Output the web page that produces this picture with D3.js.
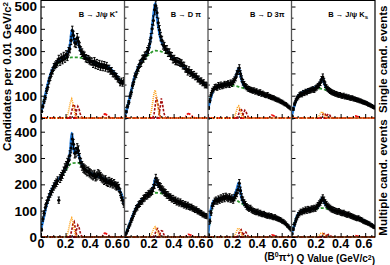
<!DOCTYPE html>
<html>
<head>
<meta charset="utf-8">
<script src="https://cdn.jsdelivr.net/npm/d3@7/dist/d3.min.js"></script>
<style>
body { margin: 0; background: #fff; }
svg text { font-family: "Liberation Sans", Arial, Helvetica, sans-serif; font-weight: bold; fill: #000; }
</style>
</head>
<body>
<div id="viz"></div>
<script>
//Canales (columnas) y filas
const channelMain = ['B \u2192 J/\u03c8 K', 'B \u2192 D \u03c0', 'B \u2192 D 3\u03c0', 'B \u2192 J/\u03c8 K'];
const channelSup = ['*', '', '', ''];
const channelSub = ['', '', '', 's'];
const rowTitles = ['Single cand. events', 'Multiple cand. events'];

//Ejes
const yTicksTop = [0, 100, 200, 300, 400, 500];
const yTicksBottom = [0, 100, 200, 300, 400];
const xTicks = [0, 0.2, 0.4, 0.6];
const xTickLabels = ['0', '0.2', '0.4', '0.6'];

//Bins de 0.01 GeV (centros)
const binCenters = d3.range(68).map(i => 0.005 + 0.01 * i);

//Rejillas x de las curvas
const fitX = [0, 0.02, 0.05, 0.08, 0.11, 0.14, 0.17, 0.20, 0.22, 0.24, 0.25, 0.26, 0.27, 0.28, 0.29, 0.30, 0.32, 0.35, 0.40, 0.45, 0.50, 0.55, 0.60, 0.65, 0.68];
const bkgX = [0, 0.05, 0.10, 0.15, 0.20, 0.25, 0.30, 0.35, 0.40, 0.45, 0.50, 0.55, 0.60, 0.65, 0.68];
const sigAX = [0, 0.20, 0.21, 0.22, 0.23, 0.24, 0.25, 0.26, 0.27, 0.28, 0.29, 0.30, 0.68];
const sigBX = [0, 0.23, 0.24, 0.25, 0.26, 0.27, 0.28, 0.29, 0.30, 0.68];
const sigCX = [0, 0.27, 0.28, 0.29, 0.30, 0.31, 0.32, 0.33, 0.34, 0.68];
const reflX = [0, 0.48, 0.50, 0.52, 0.54, 0.56, 0.58, 0.68];

//Single cand. - J/psi K*
const s1Counts = [30, 52, 74, 92, 121, 138, 166, 182, 201, 212,
  229, 236, 242, 249, 265, 252, 271, 259, 278, 266,
  285, 274, 299, 310, 348, 392, 370, 338, 334, 360,
  344, 320, 302, 293, 283, 279, 268, 265, 264, 258,
  254, 253, 242, 255, 237, 247, 233, 243, 229, 240,
  227, 238, 225, 234, 221, 222, 211, 212, 199, 198,
  189, 186, 175, 172, 157, 166, 155, 168];
const s1Fit = [28, 65, 140, 200, 235, 255, 265, 278, 295, 340, 395, 375, 345, 340, 350, 340, 305, 280, 258, 244, 236, 228, 200, 165, 160];
const s1Bkg = [28, 140, 215, 250, 265, 272, 272, 266, 256, 244, 234, 224, 200, 168, 160];
const s1SigA = [0, 0, 6, 20, 45, 72, 85, 65, 35, 12, 3, 0, 0];
const s1SigB = [0, 0, 8, 30, 55, 62, 35, 10, 0, 0];
const s1SigC = [0, 0, 10, 35, 52, 40, 18, 5, 0, 0];
const s1Refl = [0, 0, 6, 18, 12, 3, 0, 0];

//Single cand. - D pi
const s2Counts = [8, 28, 52, 70, 98, 115, 145, 162, 188, 195,
  215, 225, 243, 247, 265, 267, 279, 281, 299, 307,
  333, 360, 400, 437, 485, 503, 472, 427, 395, 365,
  348, 327, 321, 307, 307, 293, 293, 279, 277, 263,
  265, 255, 255, 253, 251, 247, 245, 235, 235, 221,
  219, 207, 215, 201, 203, 193, 195, 185, 187, 175,
  175, 165, 167, 157, 159, 147, 149, 146];
const s2Fit = [5, 40, 110, 180, 225, 258, 280, 315, 385, 480, 515, 480, 430, 395, 365, 345, 320, 300, 265, 248, 218, 196, 176, 152, 145];
const s2Bkg = [5, 110, 200, 255, 285, 302, 298, 288, 262, 248, 218, 196, 176, 152, 145];
const s2SigA = [0, 0, 12, 35, 72, 110, 125, 95, 55, 22, 6, 0, 0];
const s2SigB = [0, 0, 15, 55, 94, 70, 35, 10, 0, 0];
const s2SigC = [0, 0, 10, 45, 88, 60, 25, 6, 0, 0];
const s2Refl = [0, 0, 8, 20, 14, 4, 0, 0];

//Single cand. - D 3pi
const s3Counts = [45, 78, 104, 122, 128, 138, 140, 136, 147, 141,
  149, 143, 146, 152, 148, 151, 155, 149, 158, 154,
  163, 171, 180, 198, 210, 224, 198, 176, 160, 151,
  143, 138, 132, 130, 127, 125, 122, 124, 118, 120,
  115, 112, 116, 108, 110, 106, 103, 101, 104, 97,
  96, 93, 91, 90, 86, 84, 81, 80, 76, 73,
  71, 67, 63, 61, 56, 51, 47, 42];
const s3Fit = [40, 85, 132, 142, 146, 150, 154, 160, 178, 208, 224, 205, 180, 160, 148, 140, 132, 124, 114, 104, 96, 86, 72, 54, 42];
const s3Bkg = [40, 135, 144, 148, 146, 140, 132, 124, 114, 104, 96, 86, 72, 54, 42];
const s3SigA = [0, 0, 4, 12, 28, 48, 54, 40, 20, 8, 2, 0, 0];
const s3SigB = [0, 0, 5, 18, 40, 43, 22, 6, 0, 0];
const s3SigC = [0, 0, 6, 22, 35, 28, 12, 3, 0, 0];
const s3Refl = [0, 0, 4, 13, 8, 2, 0, 0];

//Single cand. - J/psi Ks
const s4Counts = [8, 40, 63, 77, 89, 95, 103, 107, 105, 113,
  111, 118, 115, 121, 122, 124, 127, 129, 126, 133,
  137, 143, 149, 158, 173, 184, 165, 149, 137, 131,
  125, 121, 117, 114, 112, 109, 108, 105, 103, 104,
  100, 98, 101, 95, 97, 93, 94, 90, 89, 90,
  86, 85, 83, 81, 80, 77, 76, 73, 71, 69,
  67, 65, 61, 59, 56, 53, 50, 47];
const s4Fit = [5, 50, 95, 112, 120, 126, 132, 140, 148, 165, 180, 168, 150, 138, 130, 124, 116, 110, 102, 96, 88, 80, 70, 56, 48];
const s4Bkg = [5, 95, 118, 128, 134, 130, 122, 110, 102, 96, 88, 80, 70, 56, 48];
const s4SigA = [0, 0, 2, 6, 14, 24, 28, 20, 10, 4, 1, 0, 0];
const s4SigB = [0, 0, 3, 10, 20, 22, 12, 4, 0, 0];
const s4SigC = [0, 0, 3, 12, 18, 14, 6, 2, 0, 0];
const s4Refl = [0, 0, 3, 9, 6, 1, 0, 0];

//Multiple cand. - J/psi K*
const m1Counts = [28, 68, 90, 112, 128, 140, 152, 164, 172, 182,
  192, 200, 206, 214, 140, 222, 230, 238, 250, 262,
  270, 282, 290, 310, 338, 372, 352, 318, 322, 336,
  328, 300, 282, 270, 262, 258, 254, 248, 250, 244,
  240, 236, 232, 238, 228, 232, 240, 236, 230, 224,
  220, 214, 218, 210, 206, 212, 204, 208, 200, 204,
  196, 192, 194, 186, 170, 150, 140, 124];
const m1Fit = [30, 70, 130, 172, 200, 218, 236, 262, 285, 335, 395, 360, 320, 322, 332, 325, 290, 262, 244, 234, 224, 212, 200, 168, 122];
const m1Bkg = [30, 128, 188, 222, 252, 280, 282, 262, 244, 234, 224, 212, 200, 168, 122];
const m1SigA = [0, 0, 5, 18, 40, 62, 72, 55, 30, 10, 3, 0, 0];
const m1SigB = [0, 0, 6, 25, 50, 58, 30, 8, 0, 0];
const m1SigC = [0, 0, 8, 28, 45, 36, 16, 4, 0, 0];
const m1Refl = [0, 0, 5, 15, 10, 3, 0, 0];

//Multiple cand. - D pi
const m2Counts = [6, 15, 25, 39, 49, 63, 73, 87, 97, 109,
  113, 123, 127, 135, 137, 146, 149, 156, 157, 163,
  165, 170, 175, 186, 199, 223, 210, 203, 193, 189,
  181, 177, 170, 167, 160, 159, 152, 151, 145, 146,
  139, 140, 133, 136, 129, 133, 126, 127, 121, 124,
  117, 121, 115, 113, 114, 109, 107, 103, 104, 98,
  97, 93, 91, 86, 85, 81, 80, 78];
const m2Fit = [6, 22, 60, 96, 122, 140, 154, 166, 176, 196, 222, 212, 200, 192, 186, 180, 170, 160, 142, 130, 118, 110, 100, 84, 78];
const m2Bkg = [6, 60, 112, 146, 162, 168, 166, 158, 142, 130, 118, 110, 100, 84, 78];
const m2SigA = [0, 0, 3, 10, 22, 35, 39, 30, 16, 6, 2, 0, 0];
const m2SigB = [0, 0, 4, 14, 28, 32, 18, 5, 0, 0];
const m2SigC = [0, 0, 4, 14, 24, 22, 10, 3, 0, 0];
const m2Refl = [0, 0, 3, 10, 7, 2, 0, 0];

//Multiple cand. - D 3pi
const m3Counts = [8, 60, 92, 118, 128, 136, 140, 136, 144, 140,
  148, 144, 152, 146, 154, 150, 146, 152, 144, 148,
  140, 150, 158, 166, 180, 204, 176, 152, 140, 130,
  124, 116, 112, 108, 110, 104, 100, 98, 96, 94,
  96, 90, 92, 88, 86, 88, 84, 82, 80, 82,
  78, 80, 76, 74, 76, 72, 70, 68, 66, 64,
  60, 58, 54, 50, 44, 40, 34, 28];
const m3Fit = [5, 95, 138, 144, 148, 150, 150, 150, 162, 190, 206, 185, 155, 140, 130, 124, 112, 104, 94, 86, 80, 72, 62, 42, 28];
const m3Bkg = [5, 136, 146, 150, 150, 134, 120, 104, 94, 86, 80, 72, 62, 42, 28];
const m3SigA = [0, 0, 3, 8, 18, 30, 34, 26, 14, 5, 1, 0, 0];
const m3SigB = [0, 0, 3, 12, 24, 28, 15, 4, 0, 0];
const m3SigC = [0, 0, 3, 12, 20, 18, 8, 2, 0, 0];
const m3Refl = [0, 0, 2, 8, 5, 1, 0, 0];

//Multiple cand. - J/psi Ks
const m4Counts = [12, 30, 48, 62, 74, 84, 90, 96, 94, 100,
  98, 104, 100, 106, 102, 104, 108, 106, 110, 108,
  114, 120, 126, 132, 140, 148, 140, 130, 124, 118,
  114, 110, 106, 104, 102, 100, 98, 96, 98, 94,
  92, 90, 92, 88, 86, 84, 86, 82, 80, 78,
  76, 74, 72, 70, 72, 68, 66, 64, 60, 58,
  56, 54, 52, 50, 46, 44, 40, 38];
const m4Fit = [10, 40, 84, 98, 102, 104, 106, 110, 120, 138, 150, 140, 128, 122, 116, 112, 106, 100, 94, 86, 78, 70, 60, 46, 38];
const m4Bkg = [10, 84, 98, 104, 108, 110, 106, 100, 94, 86, 78, 70, 60, 46, 38];
const m4SigA = [0, 0, 1, 4, 9, 14, 15, 11, 6, 2, 1, 0, 0];
const m4SigB = [0, 0, 2, 6, 12, 13, 7, 2, 0, 0];
const m4SigC = [0, 0, 2, 6, 10, 8, 4, 1, 0, 0];
const m4Refl = [0, 0, 2, 5, 3, 1, 0, 0];

//Tabla de paneles
const panels = [
  {row: 0, col: 0, counts: s1Counts, fit: s1Fit, bkg: s1Bkg, sigA: s1SigA, sigB: s1SigB, sigC: s1SigC, refl: s1Refl},
  {row: 0, col: 1, counts: s2Counts, fit: s2Fit, bkg: s2Bkg, sigA: s2SigA, sigB: s2SigB, sigC: s2SigC, refl: s2Refl},
  {row: 0, col: 2, counts: s3Counts, fit: s3Fit, bkg: s3Bkg, sigA: s3SigA, sigB: s3SigB, sigC: s3SigC, refl: s3Refl},
  {row: 0, col: 3, counts: s4Counts, fit: s4Fit, bkg: s4Bkg, sigA: s4SigA, sigB: s4SigB, sigC: s4SigC, refl: s4Refl},
  {row: 1, col: 0, counts: m1Counts, fit: m1Fit, bkg: m1Bkg, sigA: m1SigA, sigB: m1SigB, sigC: m1SigC, refl: m1Refl},
  {row: 1, col: 1, counts: m2Counts, fit: m2Fit, bkg: m2Bkg, sigA: m2SigA, sigB: m2SigB, sigC: m2SigC, refl: m2Refl},
  {row: 1, col: 2, counts: m3Counts, fit: m3Fit, bkg: m3Bkg, sigA: m3SigA, sigB: m3SigB, sigC: m3SigC, refl: m3Refl},
  {row: 1, col: 3, counts: m4Counts, fit: m4Fit, bkg: m4Bkg, sigA: m4SigA, sigB: m4SigB, sigC: m4SigC, refl: m4Refl}
];

//Colores
const COLOR_FIT = '#1f7be0',
  COLOR_BKG = '#2e9a2e',
  COLOR_SIG_A = '#ffa31a',
  COLOR_SIG_B = '#a30d0d',
  COLOR_REFL = '#ee1111';

const width = 390, height = 265;
const left = 41, right = 375;
const panelW = (right - left) / 4;
const rowTop = [0.5, 118], rowBot = [118, 237];
const yMax = [527, 452];

let svg = d3.select('#viz')
  .append('svg')
    .attr('width', width)
    .attr('height', height);

let x = d3.scaleLinear()
  .domain([0, 0.68])
  .range([0, panelW]);

panels.forEach(function(p, k) {
  let g = svg.append('g')
    .attr('transform', 'translate(' + (left + p.col * panelW) + ',0)');

  let y = d3.scaleLinear()
    .domain([0, yMax[p.row]])
    .range([rowBot[p.row], rowTop[p.row]]);

  g.append('clipPath').attr('id', 'clip' + k)
    .append('rect')
      .attr('x', 0).attr('y', rowTop[p.row])
      .attr('width', panelW).attr('height', rowBot[p.row] - rowTop[p.row] + 1.5);

  let plot = g.append('g').attr('clip-path', 'url(#clip' + k + ')');

  function curve(xs, ys, c) {
    return d3.line()
      .x(function(d, i) { return x(xs[i]); })
      .y(function(d) { return y(d); })
      .curve(c)(ys);
  }

  //Fondo (verde) y ajuste total (azul)
  plot.append('path').attr('d', curve(bkgX, p.bkg, d3.curveMonotoneX))
    .attr('fill', 'none').attr('stroke', COLOR_BKG).attr('stroke-width', 1.8).attr('stroke-dasharray', '3,2');
  plot.append('path').attr('d', curve(fitX, p.fit, d3.curveMonotoneX))
    .attr('fill', 'none').attr('stroke', COLOR_FIT).attr('stroke-width', 2.6);

  //Datos con barras de error
  let pts = plot.append('g');
  pts.selectAll('.err')
    .data(p.counts)
    .enter()
    .append('path')
    .attr('class', 'err')
    .attr('d', function(d, i) {
      let cx = x(binCenters[i]), e = Math.sqrt(d);
      let y1 = y(d + e), y2 = y(Math.max(d - e, 0));
      return 'M' + cx + ',' + y1 + 'V' + y2 + 'M' + (cx - 1.2) + ',' + y1 + 'h2.4M' + (cx - 1.2) + ',' + y2 + 'h2.4';
    })
    .attr('stroke', '#000').attr('stroke-width', 1).attr('fill', 'none');
  pts.selectAll('.pt')
    .data(p.counts)
    .enter()
    .append('circle')
    .attr('class', 'pt')
    .attr('cx', function(d, i) { return x(binCenters[i]); })
    .attr('cy', function(d) { return y(d); })
    .attr('r', 1.6)
    .attr('fill', '#000');

  //Componentes de señal
  plot.append('path').attr('d', curve(reflX, p.refl, d3.curveMonotoneX))
    .attr('fill', 'none').attr('stroke', COLOR_REFL).attr('stroke-width', 1.8).attr('stroke-dasharray', '4,1.5,1,1.5');
  plot.append('path').attr('d', curve(sigCX, p.sigC, d3.curveLinear))
    .attr('fill', 'none').attr('stroke', COLOR_SIG_B).attr('stroke-width', 1.6).attr('stroke-dasharray', '2.5,1.5');
  plot.append('path').attr('d', curve(sigBX, p.sigB, d3.curveLinear))
    .attr('fill', 'none').attr('stroke', COLOR_SIG_B).attr('stroke-width', 1.6).attr('stroke-dasharray', '2.5,1.5');
  plot.append('path').attr('d', curve(sigAX, p.sigA, d3.curveLinear))
    .attr('fill', 'none').attr('stroke', COLOR_SIG_A).attr('stroke-width', 1.6).attr('stroke-dasharray', '1,1');

  //Ticks del eje y (hacia dentro)
  let yMajor = p.row == 0 ? yTicksTop : yTicksBottom;
  g.append('g')
    .call(d3.axisRight(y).tickValues(yMajor).tickSize(4).tickFormat(''))
    .call(function(a) { a.select('.domain').remove(); a.selectAll('line').attr('stroke', '#000'); });
  g.append('g')
    .call(d3.axisRight(y).tickValues(d3.range(50, yMax[p.row], 100)).tickSize(2).tickFormat(''))
    .call(function(a) { a.select('.domain').remove(); a.selectAll('line').attr('stroke', '#000'); });

  //Ticks del eje x
  g.append('g')
    .attr('transform', 'translate(0,' + rowBot[p.row] + ')')
    .call(d3.axisTop(x).tickValues(xTicks).tickSize(4).tickFormat(''))
    .call(function(a) { a.select('.domain').remove(); a.selectAll('line').attr('stroke', '#000'); });
  g.append('g')
    .attr('transform', 'translate(0,' + rowBot[p.row] + ')')
    .call(d3.axisTop(x).tickValues([0.05, 0.1, 0.15, 0.25, 0.3, 0.35, 0.45, 0.5, 0.55, 0.65]).tickSize(2).tickFormat(''))
    .call(function(a) { a.select('.domain').remove(); a.selectAll('line').attr('stroke', '#000'); });

  //Etiquetas del eje y (solo primera columna)
  if (p.col == 0) {
    g.selectAll('.ylab')
      .data(yMajor)
      .enter()
      .append('text')
      .attr('x', -4)
      .attr('y', function(d) { return y(d); })
      .attr('dy', '0.36em')
      .attr('text-anchor', 'end')
      .style('font-size', '13.5px')
      .text(function(d) { return d; });
  }

  //Etiquetas del eje x (fila inferior); el "0" de cada panel se junta con el "0.6" anterior
  if (p.row == 1) {
    g.selectAll('.xlab')
      .data(xTicks)
      .enter()
      .append('text')
      .attr('x', function(d, i) { return x(d) + (i == 0 && p.col > 0 ? 2 : 0) - (i == 3 ? 1.5 : 0); })
      .attr('y', 248)
      .attr('text-anchor', 'middle')
      .style('font-size', '12.5px')
      .text(function(d, i) { return xTickLabels[i]; });
  } else {
    //Nombre del canal
    let t = g.append('text')
      .attr('x', panelW - 7)
      .attr('y', 17)
      .attr('text-anchor', 'end')
      .style('font-size', '7.5px');
    t.append('tspan').text(channelMain[p.col]);
    if (channelSup[p.col]) t.append('tspan').attr('dy', '-0.4em').style('font-size', '6px').text(channelSup[p.col]);
    if (channelSub[p.col]) t.append('tspan').attr('dy', '0.3em').style('font-size', '6px').text(channelSub[p.col]);
  }
});

//Marcos
svg.append('g')
  .selectAll('line')
  .data([1, 2, 3])
  .enter()
  .append('line')
  .attr('x1', function(d) { return left + d * panelW; })
  .attr('x2', function(d) { return left + d * panelW; })
  .attr('y1', 0).attr('y2', rowBot[1])
  .attr('stroke', '#555').attr('stroke-width', 1.3);

svg.append('path')
  .attr('d', 'M' + left + ',0.5H' + right + 'M' + left + ',0V' + rowBot[1] + 'H' + right + 'V0')
  .attr('fill', 'none').attr('stroke', '#000').attr('stroke-width', 1.2);

//Títulos
svg.append('text')
  .attr('transform', 'translate(11,2) rotate(-90)')
  .attr('text-anchor', 'end')
  .style('font-size', '11.5px')
  .call(function(t) {
    t.append('tspan').text('Candidates per 0.01 GeV/c');
    t.append('tspan').attr('dy', '-0.4em').style('font-size', '8px').text('2');
  });

svg.selectAll('.rowtitle')
  .data(rowTitles)
  .enter()
  .append('text')
  .attr('transform', function(d, i) { return 'translate(387,' + ((rowTop[i] + rowBot[i]) / 2) + ') rotate(-90)'; })
  .attr('text-anchor', 'middle')
  .style('font-size', '11.5px')
  .text(function(d) { return d; });

svg.append('text')
  .attr('x', right)
  .attr('y', 260)
  .attr('text-anchor', 'end')
  .style('font-size', '10px')
  .call(function(t) {
    t.append('tspan').text('(B');
    t.append('tspan').attr('dy', '-0.4em').style('font-size', '7px').text('0');
    t.append('tspan').attr('dy', '0.4em').text('\u03c0');
    t.append('tspan').attr('dy', '-0.4em').style('font-size', '7px').text('+');
    t.append('tspan').attr('dy', '0.4em').text(') Q Value (GeV/c');
    t.append('tspan').attr('dy', '-0.4em').style('font-size', '7px').text('2');
    t.append('tspan').attr('dy', '0.4em').text(')');
  });
</script>
</body>
</html>
